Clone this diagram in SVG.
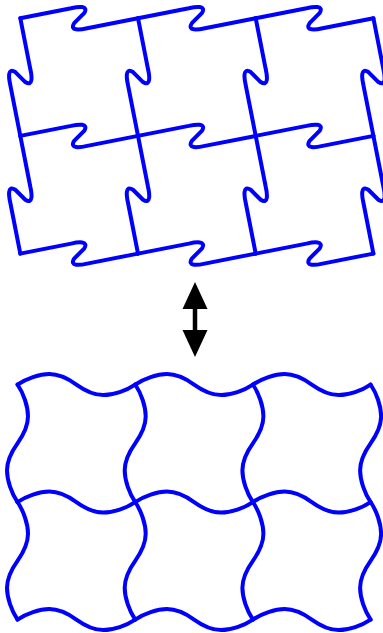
<svg xmlns="http://www.w3.org/2000/svg" xmlns:xlink="http://www.w3.org/1999/xlink" width="383" height="633" viewBox="0 0 383 633">
  <style>
    .edge { fill: none; stroke: #0000ff; stroke-width: 4; stroke-linecap: round; stroke-linejoin: round; }
    .arrow { fill: #000; stroke: none; }
  </style>
  <defs>
    <path id="hook" d="M-58.85,0 L-8,-10 C-1,-11.6 10,-13 5,-5 L-5,5 C-10,13 1,11.6 8,10 L58.85,0"/>
    <path id="wave" d="M-58.85,0 C-50,-6 -37,-10.5 -27,-10.5 C-17,-10.5 -7,-5 0,0 C7,5 17,10.5 27,10.5 C37,10.5 50,6 58.85,0"/>
  </defs>

  <g id="top-tiling" class="edge">
    <!-- horizontal edges -->
    <use xlink:href="#hook" href="#hook" transform="translate(79.15,18.2)"/>
    <use xlink:href="#hook" href="#hook" transform="translate(196.85,18.2)"/>
    <use xlink:href="#hook" href="#hook" transform="translate(314.55,18.2)"/>
    <use xlink:href="#hook" href="#hook" transform="translate(79.15,135.9)"/>
    <use xlink:href="#hook" href="#hook" transform="translate(196.85,135.9)"/>
    <use xlink:href="#hook" href="#hook" transform="translate(314.55,135.9)"/>
    <use xlink:href="#hook" href="#hook" transform="translate(79.15,253.6)"/>
    <use xlink:href="#hook" href="#hook" transform="translate(196.85,253.6)"/>
    <use xlink:href="#hook" href="#hook" transform="translate(314.55,253.6)"/>
    <!-- vertical edges -->
    <use xlink:href="#hook" href="#hook" transform="translate(20.3,77.05) rotate(90)"/>
    <use xlink:href="#hook" href="#hook" transform="translate(138,77.05) rotate(90)"/>
    <use xlink:href="#hook" href="#hook" transform="translate(255.7,77.05) rotate(90)"/>
    <use xlink:href="#hook" href="#hook" transform="translate(373.4,77.05) rotate(90)"/>
    <use xlink:href="#hook" href="#hook" transform="translate(20.3,194.75) rotate(90)"/>
    <use xlink:href="#hook" href="#hook" transform="translate(138,194.75) rotate(90)"/>
    <use xlink:href="#hook" href="#hook" transform="translate(255.7,194.75) rotate(90)"/>
    <use xlink:href="#hook" href="#hook" transform="translate(373.4,194.75) rotate(90)"/>
  </g>

  <g id="arrow">
    <line x1="195" y1="305" x2="195" y2="333" stroke="#000" stroke-width="4.5"/>
    <polygon class="arrow" points="195,282 182.5,309 207.5,309"/>
    <polygon class="arrow" points="182.5,330 207.5,330 195,357"/>
  </g>

  <g id="bottom-tiling" class="edge">
    <!-- horizontal edges -->
    <use xlink:href="#wave" href="#wave" transform="translate(76.35,384.6)"/>
    <use xlink:href="#wave" href="#wave" transform="translate(194.05,384.6)"/>
    <use xlink:href="#wave" href="#wave" transform="translate(311.75,384.6)"/>
    <use xlink:href="#wave" href="#wave" transform="translate(76.35,502.1)"/>
    <use xlink:href="#wave" href="#wave" transform="translate(194.05,502.1)"/>
    <use xlink:href="#wave" href="#wave" transform="translate(311.75,502.1)"/>
    <use xlink:href="#wave" href="#wave" transform="translate(76.35,619.6)"/>
    <use xlink:href="#wave" href="#wave" transform="translate(194.05,619.6)"/>
    <use xlink:href="#wave" href="#wave" transform="translate(311.75,619.6)"/>
    <!-- vertical edges -->
    <use xlink:href="#wave" href="#wave" transform="translate(17.5,443.35) rotate(90)"/>
    <use xlink:href="#wave" href="#wave" transform="translate(135.2,443.35) rotate(90)"/>
    <use xlink:href="#wave" href="#wave" transform="translate(252.9,443.35) rotate(90)"/>
    <use xlink:href="#wave" href="#wave" transform="translate(370.6,443.35) rotate(90)"/>
    <use xlink:href="#wave" href="#wave" transform="translate(17.5,560.85) rotate(90)"/>
    <use xlink:href="#wave" href="#wave" transform="translate(135.2,560.85) rotate(90)"/>
    <use xlink:href="#wave" href="#wave" transform="translate(252.9,560.85) rotate(90)"/>
    <use xlink:href="#wave" href="#wave" transform="translate(370.6,560.85) rotate(90)"/>
  </g>
</svg>
